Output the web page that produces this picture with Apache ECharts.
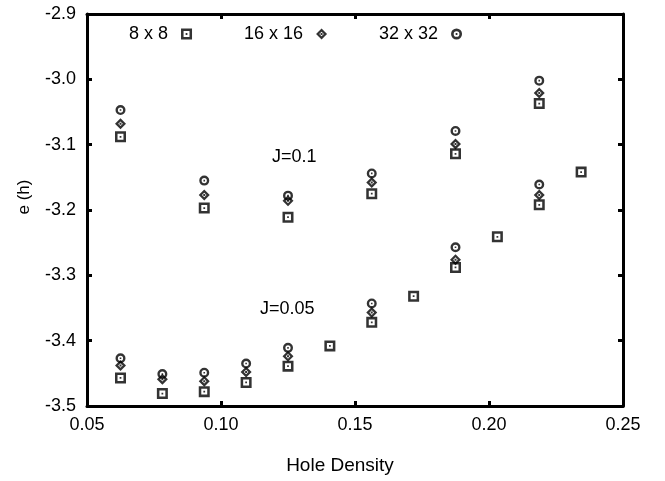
<!DOCTYPE html>
<html>
<head>
<meta charset="utf-8">
<script src="https://cdn.jsdelivr.net/npm/echarts@6/dist/echarts.min.js"></script>
<style>
html, body { margin: 0; padding: 0; background: #fff; }
#chart { width: 665px; height: 481px; }
</style>
</head>
<body>
<div id="chart"></div>
<script>
// hole densities (holes / 64 on the 8x8 lattice)
var holeAll = [0.0625, 0.078125, 0.09375, 0.109375, 0.125, 0.140625, 0.15625, 0.171875, 0.1875, 0.203125, 0.21875, 0.234375];
var holeBig = [0.0625, 0.078125, 0.09375, 0.109375, 0.125, 0.15625, 0.1875, 0.21875];
var holeJ1 = [0.0625, 0.09375, 0.125, 0.15625, 0.1875, 0.21875];

// J=0.05
var e8j05 = [-3.457, -3.481, -3.478, -3.464, -3.439, -3.408, -3.372, -3.332, -3.288, -3.241, -3.192, -3.142];
var e16j05 = [-3.438, -3.459, -3.462, -3.448, -3.424, -3.357, -3.276, -3.177];
var e32j05 = [-3.427, -3.451, -3.449, -3.435, -3.411, -3.343, -3.257, -3.161];
// J=0.1
var e8j1 = [-3.088, -3.197, -3.211, -3.175, -3.114, -3.037];
var e16j1 = [-3.068, -3.177, -3.186, -3.158, -3.099, -3.021];
var e32j1 = [-3.047, -3.155, -3.178, -3.144, -3.079, -3.002];

var names = ['8 x 8', '16 x 16', '32 x 32'];

// open symbols with a dot in the middle
var sqPath = 'path://M0 0L10 0L10 10L0 10ZM2.3 2.3L2.3 7.7L7.7 7.7L7.7 2.3ZM4.2 4.2L5.8 4.2L5.8 5.8L4.2 5.8Z';
var diaPath = 'path://M5 0L10 5L5 10L0 5ZM5 2.9L2.9 5L5 7.1L7.1 5ZM4.1 4.1L5.9 4.1L5.9 5.9L4.1 5.9Z';
var cirPath = 'path://M0 5A5 5 0 1 1 10 5A5 5 0 1 1 0 5ZM2.4 5A2.6 2.6 0 1 0 7.6 5A2.6 2.6 0 1 0 2.4 5ZM4.2 4.2L5.8 4.2L5.8 5.8L4.2 5.8Z';

function pairs(xs, ys) {
    var out = [];
    for (let i = 0; i < xs.length; ++i) {
        out.push([xs[i], ys[i]]);
    }
    return out;
}

var font = 'Liberation Sans, Arial, sans-serif';
var black = '#000';

function axisBase(show) {
    return {
        axisLine: { show: true, lineStyle: { color: black, width: 3 } },
        axisTick: { show: true, inside: true, length: 5, lineStyle: { color: black, width: 3 } },
        splitLine: { show: false },
        axisLabel: { show: show, color: black, fontFamily: font, fontSize: 18 }
    };
}

var xBottom = axisBase(true);
xBottom.type = 'value';
xBottom.min = 0.05;
xBottom.max = 0.25;
xBottom.interval = 0.05;
xBottom.axisLabel.margin = 10;
xBottom.axisLabel.formatter = function (v) { return v.toFixed(2); };
xBottom.name = 'Hole Density';
xBottom.nameLocation = 'middle';
xBottom.nameGap = 50;
xBottom.nameTextStyle = { color: black, fontFamily: font, fontSize: 19, padding: [0, 30, 0, 0] };

var xTop = axisBase(false);
xTop.type = 'value';
xTop.position = 'top';
xTop.min = 0.05;
xTop.max = 0.25;
xTop.interval = 0.05;

var yLeft = axisBase(true);
yLeft.type = 'value';
yLeft.min = -3.5;
yLeft.max = -2.9;
yLeft.interval = 0.1;
yLeft.axisLabel.margin = 11;
yLeft.axisLabel.formatter = function (v) { return v.toFixed(1); };
yLeft.name = 'e (h)';
yLeft.nameLocation = 'middle';
yLeft.nameRotate = 90;
yLeft.nameGap = 54;
yLeft.nameTextStyle = { color: black, fontFamily: font, fontSize: 17, padding: [0, 0, 0, 26] };

var yRight = axisBase(false);
yRight.type = 'value';
yRight.position = 'right';
yRight.min = -3.5;
yRight.max = -2.9;
yRight.interval = 0.1;

function legendFor(name, icon, left) {
    return {
        data: [{ name: name, icon: icon }],
        left: left,
        top: 20,
        align: 'right',
        itemWidth: 11,
        itemHeight: 11,
        selectedMode: false,
        textStyle: { color: black, fontFamily: font, fontSize: 18, padding: [0, 8, 0, 0] }
    };
}

var myChart = echarts.init(document.getElementById('chart'));
var option = {
    animation: false,
    backgroundColor: '#fff',
    grid: { left: 87, right: 42, top: 14, bottom: 75, show: false },
    xAxis: [xBottom, xTop],
    yAxis: [yLeft, yRight],
    legend: [
        legendFor(names[0], sqPath, 124),
        legendFor(names[1], diaPath, 239),
        legendFor(names[2], cirPath, 374)
    ],
    graphic: [
        { type: 'text', left: 272, top: 148, style: { text: 'J=0.1', fill: black, font: '18px ' + font } },
        { type: 'text', left: 260, top: 300, style: { text: 'J=0.05', fill: black, font: '18px ' + font } }
    ],
    series: [
        {
            name: names[0], type: 'scatter', symbol: sqPath, symbolSize: 11,
            itemStyle: { color: black },
            data: pairs(holeAll, e8j05).concat(pairs(holeJ1, e8j1))
        },
        {
            name: names[1], type: 'scatter', symbol: diaPath, symbolSize: 11,
            itemStyle: { color: black },
            data: pairs(holeBig, e16j05).concat(pairs(holeJ1, e16j1))
        },
        {
            name: names[2], type: 'scatter', symbol: cirPath, symbolSize: 10,
            itemStyle: { color: black },
            data: pairs(holeBig, e32j05).concat(pairs(holeJ1, e32j1))
        }
    ]
};
myChart.setOption(option);
</script>
</body>
</html>
